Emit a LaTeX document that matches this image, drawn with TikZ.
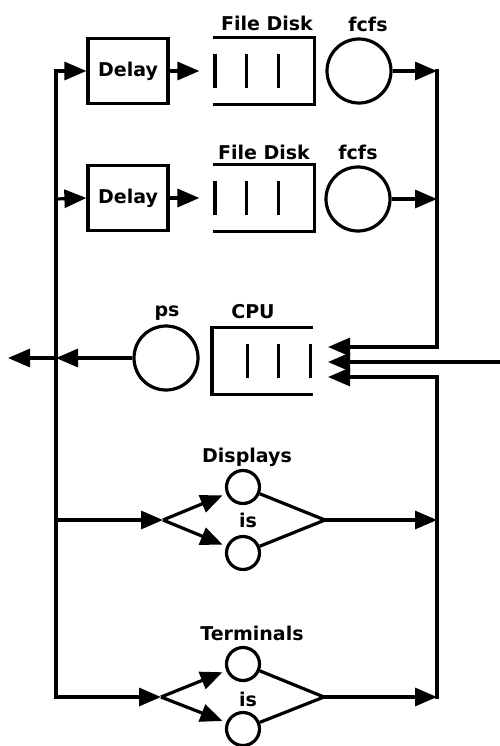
\documentclass[tikz,border=0pt]{standalone}
\usepackage{fontspec}
\setmainfont{DejaVu Sans}
\usetikzlibrary{arrows.meta,calc}
\begin{document}
\begin{tikzpicture}[x=1pt,y=-1pt,
  line width=3.2pt,
  arr/.style={-{Triangle[length=22pt,width=18pt]}},
  arrtwo/.style={{Triangle[length=22pt,width=18pt]}-{Triangle[length=22pt,width=18pt]}},
  lbl/.style={font=\fontsize{19}{22}\selectfont\bfseries, inner sep=0pt},
  delaybox/.style={draw, minimum width=80pt, minimum height=65pt, inner sep=0pt, font=\fontsize{19}{22}\selectfont\bfseries},
  srv/.style={draw, circle, minimum size=64pt, inner sep=0pt},
  smallsrv/.style={draw, circle, minimum size=33pt, inner sep=0pt},
  qbox/.style={minimum width=98pt, minimum height=64pt, inner sep=0pt},
]
\useasboundingbox (0,0) rectangle (500,746);

% ---- row 1 ----
\node[delaybox] (delay1) at (128,71) {Delay};
\node[qbox] (q1) at (264,71) {};
\node[srv] (c1) at (359,71) {};
\node[lbl] (fd1) at (267,23) {File Disk};
\node[lbl] (fc1) at (368,24) {fcfs};
\draw (q1.north west) -- (q1.north east) -- (q1.south east) -- (q1.south west);
\foreach \dx in {1.5,33,65}
  \draw ($(q1.west)+(\dx,-17)$) -- ($(q1.west)+(\dx,17)$);

% ---- row 2 ----
\node[delaybox] (delay2) at (128,198) {Delay};
\node[qbox] (q2) at (264,198) {};
\node[srv] (c2) at (358,199) {};
\node[lbl] (fd2) at (264,152) {File Disk};
\node[lbl] (fc2) at (358,152) {fcfs};
\draw (q2.north west) -- (q2.north east) -- (q2.south east) -- (q2.south west);
\foreach \dx in {1.5,33,65}
  \draw ($(q2.west)+(\dx,-17)$) -- ($(q2.west)+(\dx,17)$);

% ---- CPU ----
\node[srv] (ps) at (166,358) {};
\node[qbox] (cpu) at (262.5,361) {};
\node[lbl] (pslbl) at (167,313) {ps};
\node[lbl] (cpulbl) at (253,312) {CPU};
\draw (cpu.north east) -- (cpu.north west) -- (cpu.south west) -- (cpu.south east);
\foreach \dx in {-66,-35,-2.5}
  \draw ($(cpu.east)+(\dx,-17)$) -- ($(cpu.east)+(\dx,17)$);

% ---- Displays ----
\node[lbl] (displbl) at (247,457) {Displays};
\node[smallsrv] (d1) at (243,487) {};
\node[smallsrv] (d2) at (243,553) {};
\node[lbl] (is1) at (248,520) {is};

% ---- Terminals ----
\node[lbl] (termlbl) at (252,633) {Terminals};
\node[smallsrv] (t1) at (243,664) {};
\node[smallsrv] (t2) at (243,729) {};
\node[lbl] (is2) at (248,699) {is};

% ---- coordinates ----
\coordinate (L1) at (56,71);
\coordinate (L2) at (56,199);
\coordinate (Lc) at (56,358);
\coordinate (L3) at (56,520);
\coordinate (L4) at (56,697);
\coordinate (Out) at (8,358);
\coordinate (R1) at (437,71);
\coordinate (R2) at (437,199);
\coordinate (Rt) at (437,347);
\coordinate (Rb) at (437,377);
\coordinate (R3) at (437,520);
\coordinate (R4) at (437,697);
\coordinate (Rin) at (502,362);
\coordinate (it) at (328,347);
\coordinate (im) at (328,362);
\coordinate (ib) at (328,377);
\coordinate (s3) at (163,520);
\coordinate (j3) at (325,520);
\coordinate (s4) at (161,697);
\coordinate (j4) at (324,697);

% ---- connectors ----
\draw[arrtwo] (delay1.west) -- (L1) -- (L4) -- (s4);
\draw[arr] (L2) -- (delay2.west);
\draw[arr] (L3) -- (s3);
\draw[arr, shorten >=14pt] (delay1.east) -- (q1.west);
\draw[arr, shorten >=14pt] (delay2.east) -- (q2.west);
\draw[arr] (c1) -- (R1);
\draw[arr] (c2) -- (R2);
\draw[arr, line cap=rect] (R1) -- (Rt) -- (it);
\draw[arr] (Rin) -- (im);
\draw[arr, line cap=rect] (R4) -- (Rb) -- (ib);
\draw[arr] (ps.west) -- (Lc);
\draw[arr] (Lc) -- (Out);

\draw[arr, shorten >=4pt] (s3) -- (d1);
\draw[arr, shorten >=4pt] (s3) -- (d2);
\draw (d1) -- (j3) -- (d2);
\draw[arr] (j3) -- (R3);

\draw[arr, shorten >=4pt] (s4) -- (t1);
\draw[arr, shorten >=4pt] (s4) -- (t2);
\draw (t1) -- (j4) -- (t2);
\draw[arr] (j4) -- (R4);
\end{tikzpicture}
\end{document}
